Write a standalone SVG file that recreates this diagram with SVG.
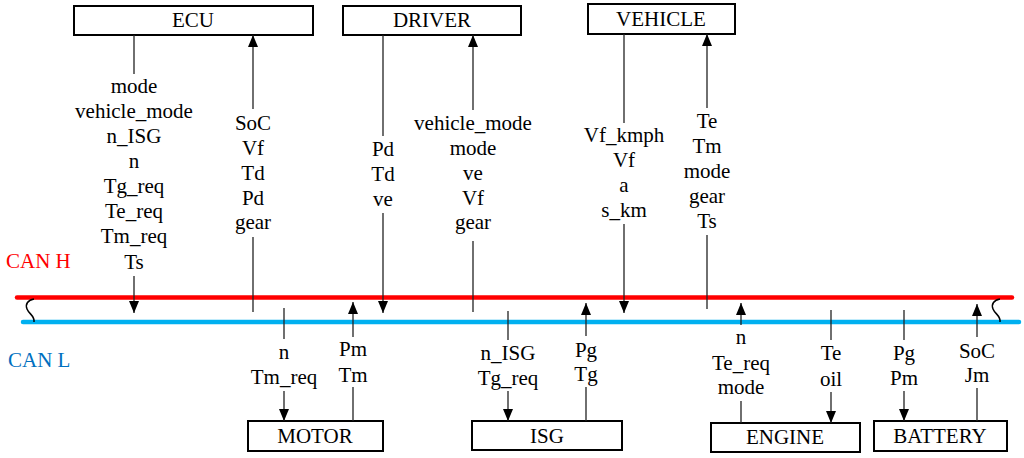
<svg xmlns="http://www.w3.org/2000/svg" width="1024" height="458" viewBox="0 0 1024 458">
<style>
.box{fill:#fff;stroke:#000;stroke-width:2}
.t{font-size:21px;fill:#000;text-anchor:middle}
.c{stroke:#222;stroke-width:1.3;fill:none}
.a{marker-end:url(#arr)}
</style>
<defs>
<marker id="arr" markerUnits="userSpaceOnUse" markerWidth="12" markerHeight="12" viewBox="0 0 12 10" refX="12" refY="5" orient="auto">
<path d="M0,0 L12,5 L0,10 z" fill="#000"/>
</marker>
</defs>
<rect width="1024" height="458" fill="#fff"/>
<g font-family="Liberation Serif, DejaVu Serif, serif">
<g id="bus">
<line x1="17" y1="297.5" x2="1012" y2="297.5" stroke="#ff0000" stroke-width="4.5" stroke-linecap="round"/>
<line x1="23" y1="322" x2="1019" y2="322" stroke="#00b0f0" stroke-width="4.5" stroke-linecap="round"/>
<path d="M34 299 C28 300 25 304 27 309 C29 314 35 316 34 322" fill="none" stroke="#000" stroke-width="1.5"/>
<path d="M1000 299 C994 300 991 304 993 309 C995 314 1001 316 1000 322" fill="none" stroke="#000" stroke-width="1.5"/>
<text x="6" y="268" font-size="21" fill="#ff0000">CAN H</text>
<text x="8" y="367" font-size="21" fill="#0070c0">CAN L</text>
</g>
<g id="ECU">
<rect class="box" x="74" y="6" width="239" height="29"/>
<text class="t" x="193" y="27">ECU</text>
</g>
<g id="DRIVER">
<rect class="box" x="343" y="6" width="178" height="29"/>
<text class="t" x="432" y="27">DRIVER</text>
</g>
<g id="VEHICLE">
<rect class="box" x="588" y="4" width="147" height="30"/>
<text class="t" x="661" y="26">VEHICLE</text>
</g>
<g id="MOTOR">
<rect class="box" x="248" y="421" width="135" height="30"/>
<text class="t" x="315" y="443">MOTOR</text>
</g>
<g id="ISG">
<rect class="box" x="472" y="421" width="150" height="29"/>
<text class="t" x="547" y="443">ISG</text>
</g>
<g id="ENGINE">
<rect class="box" x="711" y="423" width="149" height="29"/>
<text class="t" x="785" y="444">ENGINE</text>
</g>
<g id="BATTERY">
<rect class="box" x="874" y="421" width="133" height="30"/>
<text class="t" x="940" y="443">BATTERY</text>
</g>
<g id="connectors">
<line class="c" x1="134" y1="35" x2="134" y2="74"/>
<line class="c a" x1="134" y1="276" x2="134" y2="313"/>
<line class="c a" x1="253" y1="109" x2="253" y2="35"/>
<line class="c" x1="253" y1="237" x2="253" y2="312"/>
<line class="c" x1="383" y1="35" x2="383" y2="136"/>
<line class="c a" x1="383" y1="213" x2="383" y2="313"/>
<line class="c a" x1="473" y1="110" x2="473" y2="35"/>
<line class="c" x1="473" y1="241" x2="473" y2="312"/>
<line class="c" x1="624" y1="34" x2="624" y2="123"/>
<line class="c a" x1="624" y1="224" x2="624" y2="313"/>
<line class="c a" x1="707" y1="108" x2="707" y2="34"/>
<line class="c" x1="707" y1="235" x2="707" y2="309"/>
<line class="c" x1="284" y1="308" x2="284" y2="339"/>
<line class="c a" x1="284" y1="391" x2="284" y2="421"/>
<line class="c a" x1="353" y1="337" x2="353" y2="302"/>
<line class="c" x1="353" y1="387" x2="353" y2="421"/>
<line class="c" x1="508" y1="311" x2="508" y2="340"/>
<line class="c a" x1="508" y1="391" x2="508" y2="421"/>
<line class="c a" x1="586" y1="336" x2="586" y2="303"/>
<line class="c" x1="586" y1="387" x2="586" y2="421"/>
<line class="c a" x1="741" y1="325" x2="741" y2="303"/>
<line class="c" x1="741" y1="401" x2="741" y2="423"/>
<line class="c" x1="831" y1="310" x2="831" y2="340"/>
<line class="c a" x1="831" y1="392" x2="831" y2="423"/>
<line class="c" x1="904" y1="310" x2="904" y2="340"/>
<line class="c a" x1="904" y1="391" x2="904" y2="421"/>
<line class="c a" x1="977" y1="337" x2="977" y2="304"/>
<line class="c" x1="977" y1="388" x2="977" y2="421"/>
</g>
<g id="labels">
<text class="t" x="134" y="93">mode</text>
<text class="t" x="134" y="118">vehicle_mode</text>
<text class="t" x="134" y="143">n_ISG</text>
<text class="t" x="134" y="168">n</text>
<text class="t" x="134" y="193">Tg_req</text>
<text class="t" x="134" y="218">Te_req</text>
<text class="t" x="134" y="243">Tm_req</text>
<text class="t" x="134" y="269">Ts</text>
<text class="t" x="253" y="130">SoC</text>
<text class="t" x="253" y="155">Vf</text>
<text class="t" x="253" y="180">Td</text>
<text class="t" x="253" y="205">Pd</text>
<text class="t" x="253" y="229">gear</text>
<text class="t" x="383" y="156">Pd</text>
<text class="t" x="383" y="181">Td</text>
<text class="t" x="383" y="206">ve</text>
<text class="t" x="473" y="130">vehicle_mode</text>
<text class="t" x="473" y="155">mode</text>
<text class="t" x="473" y="180">ve</text>
<text class="t" x="473" y="205">Vf</text>
<text class="t" x="473" y="229">gear</text>
<text class="t" x="624" y="142">Vf_kmph</text>
<text class="t" x="624" y="167">Vf</text>
<text class="t" x="624" y="192">a</text>
<text class="t" x="624" y="217">s_km</text>
<text class="t" x="707" y="128">Te</text>
<text class="t" x="707" y="153">Tm</text>
<text class="t" x="707" y="178">mode</text>
<text class="t" x="707" y="203">gear</text>
<text class="t" x="707" y="228">Ts</text>
<text class="t" x="284" y="359">n</text>
<text class="t" x="284" y="384">Tm_req</text>
<text class="t" x="353" y="356">Pm</text>
<text class="t" x="353" y="382">Tm</text>
<text class="t" x="508" y="360">n_ISG</text>
<text class="t" x="508" y="385">Tg_req</text>
<text class="t" x="586" y="357">Pg</text>
<text class="t" x="586" y="381">Tg</text>
<text class="t" x="741" y="344">n</text>
<text class="t" x="741" y="370">Te_req</text>
<text class="t" x="741" y="394">mode</text>
<text class="t" x="831" y="360">Te</text>
<text class="t" x="831" y="386">oil</text>
<text class="t" x="904" y="360">Pg</text>
<text class="t" x="904" y="385">Pm</text>
<text class="t" x="977" y="358">SoC</text>
<text class="t" x="977" y="382">Jm</text>
</g>
</g>
</svg>
